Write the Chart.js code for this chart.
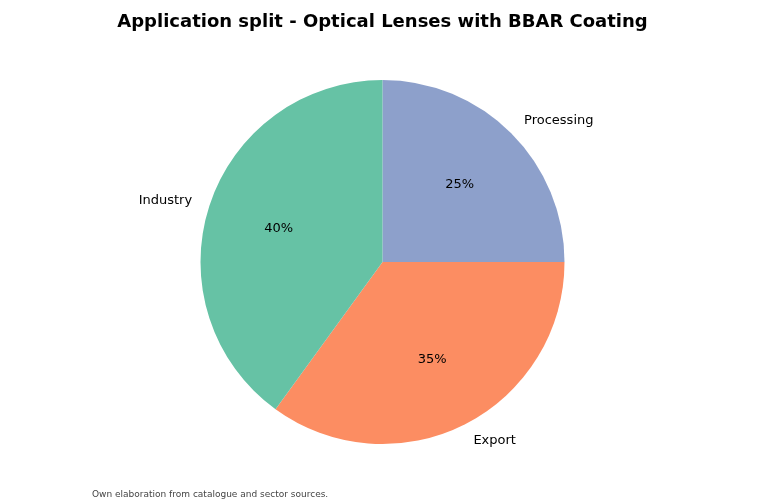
<!DOCTYPE html>
<html><head><meta charset="utf-8">
<script src="https://cdn.jsdelivr.net/npm/chart.js@4"></script>
<style>html,body{margin:0;padding:0;background:#fff}#w{width:765px;height:503px}</style>
</head><body><div id="w"><canvas id="c"></canvas></div>
<script>
const categories = ["Processing", "Export", "Industry"];
const values = [25, 35, 40];
const colors = ["#8da0cb", "#fc8d62", "#66c2a5"];
const titleText = "Application split - Optical Lenses with BBAR Coating";
const footnote = "Own elaboration from catalogue and sector sources.";

const labelPlugin = {
  id: 'labels',
  afterDraw(chart) {
    const ctx = chart.ctx;
    const meta = chart.getDatasetMeta(0);
    const total = values.reduce((a, b) => a + b, 0);
    ctx.save();
    ctx.fillStyle = '#000';
    ctx.font = '13px "DejaVu Sans"';
    meta.data.forEach((arc, i) => {
      const mid = (arc.startAngle + arc.endAngle) / 2;
      const r = arc.outerRadius;
      const cx = arc.x, cy = arc.y;
      ctx.textAlign = 'center'; ctx.textBaseline = 'middle';
      ctx.fillText(Math.round(values[i] / total * 100) + '%', cx + Math.cos(mid) * r * 0.6, cy + Math.sin(mid) * r * 0.6);
      const lx = cx + Math.cos(mid) * r * 1.1, ly = cy + Math.sin(mid) * r * 1.1;
      ctx.textAlign = Math.cos(mid) >= 0 ? 'left' : 'right';
      ctx.fillText(categories[i], lx, ly);
    });
    ctx.font = 'bold 18px "DejaVu Sans"';
    ctx.textAlign = 'center'; ctx.textBaseline = 'middle';
    ctx.fillText(titleText, 382.5, 22);
    ctx.font = '9px "DejaVu Sans"';
    ctx.fillStyle = '#444';
    ctx.textAlign = 'left';
    ctx.fillText(footnote, 92, 495);
    ctx.restore();
  }
};

new Chart(document.getElementById('c'), {
  type: 'pie',
  data: { labels: categories, datasets: [{ data: values, backgroundColor: colors, borderWidth: 0 }] },
  options: {
    responsive: true, maintainAspectRatio: false, animation: false,
    radius: 182,
    layout: { padding: { top: 40, bottom: 19 } },
    plugins: { legend: { display: false }, tooltip: { enabled: false }, title: { display: false } }
  },
  plugins: [labelPlugin]
});
</script></body></html>
